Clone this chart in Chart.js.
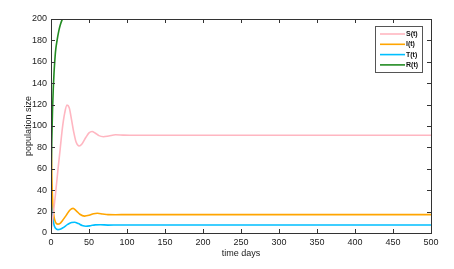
<!DOCTYPE html>
<html>
<head>
<meta charset="utf-8">
<script src="https://cdn.jsdelivr.net/npm/chart.js@4/dist/chart.umd.min.js"></script>
<style>
  html, body { margin: 0; padding: 0; background: #fff; }
  #wrap { width: 454px; height: 269px; }
</style>
</head>
<body>
<div id="wrap"><canvas id="chart"></canvas></div>
<script>
"use strict";

// values (time in days -> population)
const seriesNames = ["S(t)", "I(t)", "T(t)", "R(t)"];
const seriesColors = ["#ffb6c1", "#ffa500", "#00bfff", "#228b22"];

const sTime = [0, 3, 6, 9, 12, 15, 18, 21, 24, 27, 30, 33, 37, 41, 46, 50, 54, 58, 63, 69, 76, 85, 95, 110, 500];
const sVals = [2, 18, 37, 58, 78, 98, 112, 119.5, 117, 106, 94, 85, 81.3, 83.5, 89.5, 93.5, 94.8, 93.5, 91, 90, 90.7, 91.8, 91.5, 91.3, 91.3];

const iTime = [0, 1, 2, 3, 4, 6, 9, 12, 15, 20, 25, 29, 33, 38, 44, 50, 56, 61, 68, 75, 85, 100, 500];
const iVals = [90, 55, 33, 22, 15, 10, 8.3, 9, 11.5, 16.5, 21.5, 23, 21, 17.5, 15.8, 16.5, 18, 18.4, 17.8, 17.2, 17.1, 17.2, 17.2];

const tTime = [0, 1, 2, 3, 4, 6, 9, 12, 16, 22, 27, 31, 36, 41, 46, 52, 58, 65, 75, 90, 500];
const tVals = [60, 35, 20, 12, 7.5, 4.5, 3.2, 3.5, 5, 8, 9.8, 10, 8.8, 7, 6.3, 6.8, 7.6, 7.7, 7.4, 7.5, 7.5];

const rTime = [0, 0.5, 1, 2, 3, 4, 5, 6, 8, 10, 12, 15, 20, 30, 50, 100, 500];
const rVals = [25, 60, 85, 115, 135, 150, 161, 170, 180, 188, 194, 200, 208, 218, 230, 245, 260];

const xTicks = [0, 50, 100, 150, 200, 250, 300, 350, 400, 450, 500];
const yTicks = [0, 20, 40, 60, 80, 100, 120, 140, 160, 180, 200];

const toPoints = (ts, vs) => ts.map((t, k) => ({ x: t, y: vs[k] }));
const allSeries = [toPoints(sTime, sVals), toPoints(iTime, iVals), toPoints(tTime, tVals), toPoints(rTime, rVals)];

const FONT = "'Liberation Sans', Arial, sans-serif";

// box around the plot with inward ticks on all four sides, plus the boxed legend
const framePlugin = {
    id: "frame",
    afterDraw(chart) {
        const { ctx, chartArea: a, scales } = chart;
        ctx.save();
        ctx.strokeStyle = "#333";
        ctx.lineWidth = 1;
        ctx.strokeRect(Math.round(a.left) + 0.5, Math.round(a.top) + 0.5, Math.round(a.right - a.left), Math.round(a.bottom - a.top));
        ctx.beginPath();
        xTicks.forEach((v) => {
            const px = Math.round(scales.x.getPixelForValue(v)) + 0.5;
            ctx.moveTo(px, a.bottom); ctx.lineTo(px, a.bottom - 4);
            ctx.moveTo(px, a.top); ctx.lineTo(px, a.top + 4);
        });
        yTicks.forEach((v) => {
            const py = Math.round(scales.y.getPixelForValue(v)) + 0.5;
            ctx.moveTo(a.left, py); ctx.lineTo(a.left + 4, py);
            ctx.moveTo(a.right, py); ctx.lineTo(a.right - 4, py);
        });
        ctx.stroke();

        // legend
        const lx = 375, ly = 26, lw = 47, lh = 46;
        ctx.fillStyle = "#fff";
        ctx.fillRect(lx, ly, lw, lh);
        ctx.strokeStyle = "#555";
        ctx.strokeRect(lx + 0.5, ly + 0.5, lw, lh);
        ctx.font = "bold 7px " + FONT;
        ctx.textBaseline = "middle";
        ctx.textAlign = "left";
        seriesNames.forEach((name, k) => {
            const y = ly + 8 + k * 10.3;
            ctx.strokeStyle = seriesColors[k];
            ctx.lineWidth = 1.6;
            ctx.beginPath();
            ctx.moveTo(lx + 5, y); ctx.lineTo(lx + 30, y);
            ctx.stroke();
            ctx.fillStyle = "#111";
            ctx.fillText(name, lx + 31, y);
        });
        ctx.restore();
    }
};

new Chart(document.getElementById("chart"), {
    type: "line",
    data: {
        datasets: allSeries.map((pts, k) => ({
            label: seriesNames[k],
            data: pts,
            borderColor: seriesColors[k],
            borderWidth: 1.6,
            pointRadius: 0,
            cubicInterpolationMode: "monotone",
            fill: false
        }))
    },
    options: {
        responsive: true,
        maintainAspectRatio: false,
        animation: false,
        layout: { padding: { left: 23, top: 19, right: 23, bottom: 10 } },
        plugins: { legend: { display: false }, tooltip: { enabled: false } },
        scales: {
            x: {
                type: "linear",
                min: 0,
                max: 500,
                afterBuildTicks: (s) => { s.ticks = xTicks.map((v) => ({ value: v })); },
                afterFit: (s) => { s.height = 26; },
                grid: { display: false, drawTicks: false },
                border: { display: false },
                ticks: { color: "#222", font: { family: FONT, size: 9 }, padding: 4, maxRotation: 0 },
                title: { display: true, text: "time days", color: "#222", font: { family: FONT, size: 9 }, padding: 0 }
            },
            y: {
                min: 0,
                max: 200,
                afterBuildTicks: (s) => { s.ticks = yTicks.map((v) => ({ value: v })); },
                afterFit: (s) => { s.width = 28; },
                grid: { display: false, drawTicks: false },
                border: { display: false },
                ticks: { color: "#222", font: { family: FONT, size: 9 }, padding: 4 },
                title: { display: true, text: "population size", color: "#222", font: { family: FONT, size: 9 }, padding: 0 }
            }
        }
    },
    plugins: [framePlugin]
});
</script>
</body>
</html>
